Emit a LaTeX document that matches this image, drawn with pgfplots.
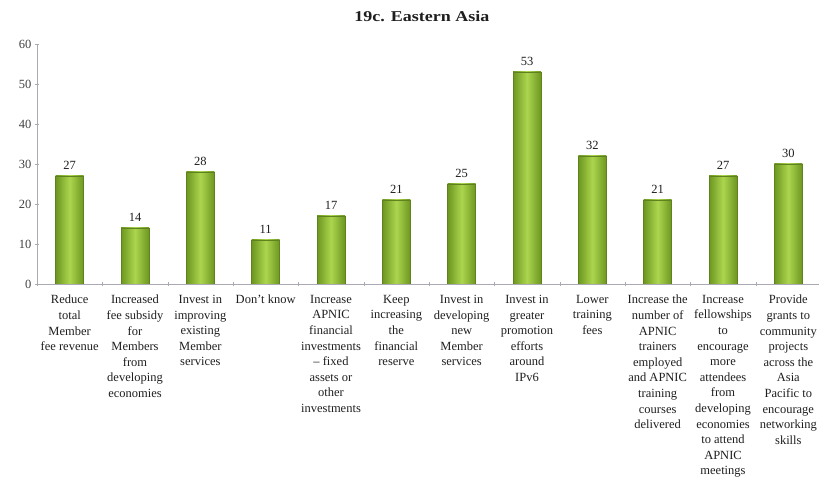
\documentclass[border=0pt]{standalone}
\usepackage{fontspec}
\setmainfont{Liberation Serif}
\newfontfamily\titlefont[FakeStretch=1.2]{Liberation Serif}
\usepackage{pgfplots}
\pgfplotsset{compat=1.18}
\definecolor{barDark}{RGB}{108,150,32}
\definecolor{barMid}{RGB}{172,214,78}
\definecolor{barEdge}{RGB}{95,130,30}
\definecolor{axisGray}{RGB}{170,170,180}
\definecolor{txt}{RGB}{30,30,30}
\pgfplotsset{greenbar/.style={ybar, bar shift=0pt, draw=barEdge, left color=barDark, right color=barDark, middle color=barMid}}
\begin{document}
\begin{tikzpicture}
\useasboundingbox (0,0) rectangle (819pt,484pt);
\clip (0,0) rectangle (819pt,484pt);
\begin{axis}[
  at={(37pt,200pt)}, anchor=south west,
  scale only axis, width=784pt, height=240pt,
  xmin=-0.5, xmax=11.5, ymin=0, ymax=60,
  ytick={0,10,...,60},
  xtick={-0.5,0.5,...,11.5},
  xticklabels={},
  extra x ticks={0,...,11},
  extra x tick labels={
    {Reduce\\total\\Member\\fee revenue},
    {Increased\\fee subsidy\\for\\Members\\from\\developing\\economies},
    {Invest in\\improving\\existing\\Member\\services},
    {Don't know},
    {Increase\\APNIC\\financial\\investments\\– fixed\\assets or\\other\\investments},
    {Keep\\increasing\\the\\financial\\reserve},
    {Invest in\\developing\\new\\Member\\services},
    {Invest in\\greater\\promotion\\efforts\\around\\IPv6},
    {Lower\\training\\fees},
    {Increase the\\number of\\APNIC\\trainers\\employed\\and APNIC\\training\\courses\\delivered},
    {Increase\\fellowships\\to\\encourage\\more\\attendees\\from\\developing\\economies\\to attend\\APNIC\\meetings},
    {Provide\\grants to\\community\\projects\\across the\\Asia\\Pacific to\\encourage\\networking\\skills}
  },
  extra x tick style={major tick length=0pt},
  xticklabel style={align=center, anchor=north, yshift=-11pt,
    font=\fontsize{12.5}{15.6}\selectfont, text=txt, inner sep=0pt},
  tick align=outside,
  major tick length=4pt,
  tick style={draw=axisGray},
  yticklabel style={font=\fontsize{12.5}{15}\selectfont, text=txt!85},
  /pgf/number format/assume math mode=true,
  axis lines=left,
  axis line style={draw=axisGray, -},
  title={\titlefont\bfseries\fontsize{15}{18}\selectfont 19c. Eastern Asia},
  title style={anchor=base, at={(0.491,1)}, yshift=16pt, text=txt},
  bar width=28pt,
  nodes near coords,
  every node near coord/.append style={font=\fontsize{12.5}{15}\selectfont, text=txt, yshift=3pt},
]
\addplot[greenbar] coordinates {(0,27)};
\addplot[greenbar] coordinates {(1,14)};
\addplot[greenbar] coordinates {(2,28)};
\addplot[greenbar] coordinates {(3,11)};
\addplot[greenbar] coordinates {(4,17)};
\addplot[greenbar] coordinates {(5,21)};
\addplot[greenbar] coordinates {(6,25)};
\addplot[greenbar] coordinates {(7,53)};
\addplot[greenbar] coordinates {(8,32)};
\addplot[greenbar] coordinates {(9,21)};
\addplot[greenbar] coordinates {(10,27)};
\addplot[greenbar] coordinates {(11,30)};
\end{axis}
\end{tikzpicture}
\end{document}
